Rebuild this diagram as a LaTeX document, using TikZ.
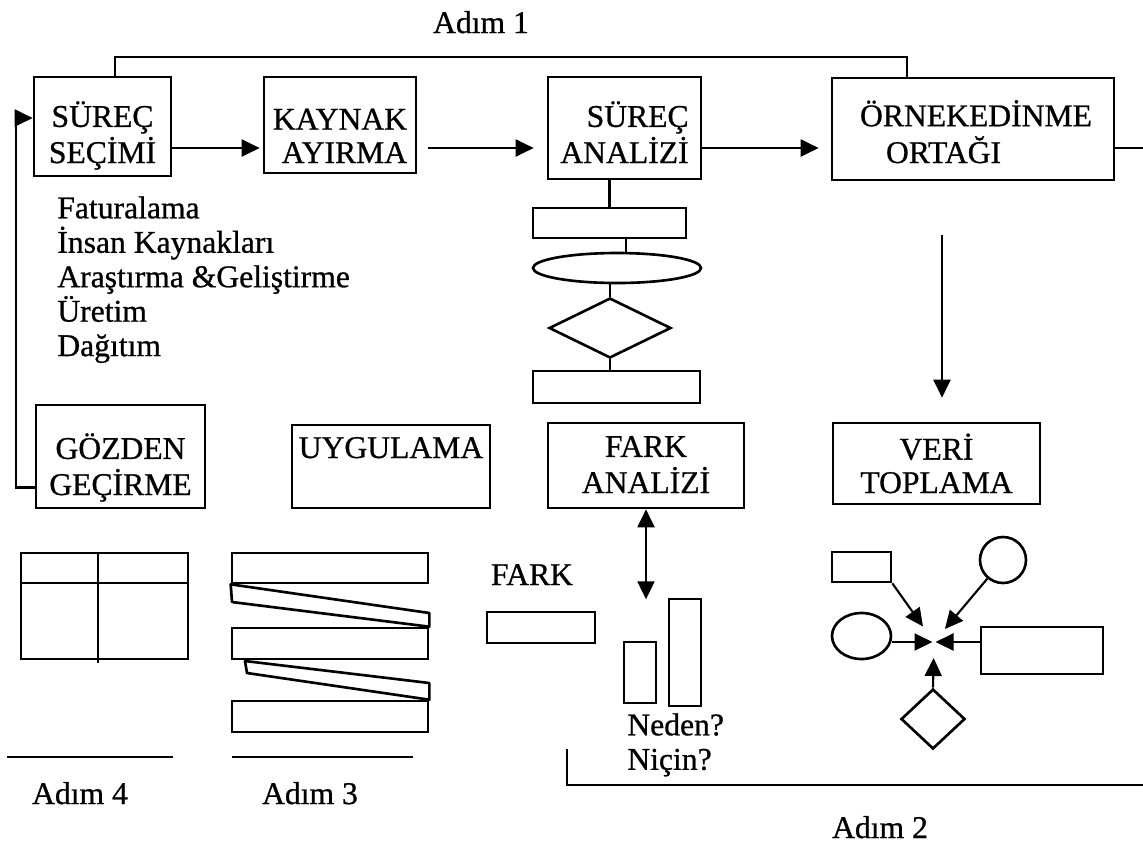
\documentclass[tikz,border=0pt]{standalone}
\usepackage{fontspec}
\setmainfont{Liberation Serif}[FakeBold=0.8]
\usetikzlibrary{arrows.meta,shapes.geometric}

% two lines, baseline on the last one
\newcommand{\ikisatir}[3][c]{\begin{tabular}[b]{@{}#1@{}}#2\\#3\end{tabular}}

\begin{document}
\begin{tikzpicture}[x=0.2mm, y=-0.2mm, >={Triangle[length=3.6mm,width=3.4mm]},
  font=\fontsize{18}{19}\selectfont,
  stepbox/.style={draw, line width=1.5pt, inner sep=1mm},
  shp/.style={draw, line width=1.5pt, inner sep=0pt},
  outline/.style={line width=1.5pt, line join=round},
  flow/.style={->, line width=1.2pt},
  link/.style={line width=1.2pt},
  lst/.style={anchor=north west, align=left, inner sep=0pt, font=\fontsize{18}{19.6}\selectfont}]
  \useasboundingbox (0,0) rectangle (1143,849);

  % Adim 1: top row
  \node[stepbox, minimum width=27.4mm, text height=16.2mm, text depth=1.6mm] (secim) at (102.5,126.5) {\ikisatir{SÜREÇ}{SEÇİMİ}};
  \node[stepbox, minimum width=30.4mm, text height=16.2mm, text depth=1mm] (kaynak) at (340,125) {\ikisatir[r]{KAYNAK}{AYIRMA}};
  \node[stepbox, minimum width=30.6mm, text height=16.2mm, text depth=2.2mm] (analiz) at (624.5,128) {\ikisatir[r]{SÜREÇ}{ANALİZİ}};
  \node[stepbox, minimum width=56.4mm, text height=16mm, text depth=2.4mm] (ortak) at (973,129) {\ikisatir[l]{\hspace*{1.2mm}ÖRNEKEDİNME}{\hspace*{6.4mm}ORTAĞI}};
  \node[anchor=base] (adim1) at (481,33) {Adım 1};
  \coordinate (row) at (0,148);
  \draw[flow, shorten >=0.6mm] (secim.east |- row) -- (kaynak.west |- row);
  \draw[flow, shorten <=2.2mm, shorten >=2.6mm] (kaynak.east |- row) -- (analiz.west |- row);
  \draw[flow, shorten >=2.4mm] (analiz.east |- row) -- (ortak.west |- row);
  \draw[link] (ortak.east |- row) -- ++(40,0);
  \draw[link] (secim.north -| 115,0) -- (115,57) -| (ortak.north -| 907,0);

  \node[lst] (alanlar) at (57,196) {Faturalama\\İnsan Kaynakları\\Araştırma \&Geliştirme\\Üretim\\Dağıtım};

  % flowchart under the analysis box
  \node[shp, minimum width=30.6mm, minimum height=6mm] (r1) at (609.5,223) {};
  \node[shp, ellipse, minimum width=33.6mm, minimum height=6mm] (ell) at (617,268) {};
  \node[shp, diamond, minimum width=24.4mm, minimum height=12mm] (dia) at (610,328) {};
  \node[shp, minimum width=33.4mm, minimum height=6.4mm] (r2) at (616.5,387) {};
  \draw[link] (r1.north) -- (r1.north |- analiz.south);
  \draw[link] (r1.south -| 626,0) -- (ell.north -| 626,0);
  \draw[link] (dia.north) -- (dia.north |- ell.south);
  \draw[link] (dia.south) -- (dia.south |- r2.north);

  % second row
  \node[stepbox, minimum width=33.8mm, text height=17mm, text depth=1.6mm] (gozden) at (120.5,456.5) {\ikisatir{GÖZDEN}{GEÇİRME}};
  \node[stepbox, minimum width=39.6mm, text height=5.6mm, text depth=9mm] (uygulama) at (391,466.5) {UYGULAMA};
  \node[stepbox, minimum width=39.2mm, text height=13mm, text depth=2mm] (farkan) at (646,465.5) {\ikisatir{FARK}{ANALİZİ}};
  \node[stepbox, minimum width=41.4mm, text height=13mm, text depth=1.2mm] (veri) at (936.5,463.5) {\ikisatir{VERİ}{TOPLAMA}};
  \coordinate (dtop) at (942,235);
  \draw[flow, shorten >=4.8mm] (dtop) -- (dtop |- veri.north);
  \draw[flow] ([yshift=-6.2mm]gozden.west) -- ++(-19,0) |- ([yshift=1.7mm]secim.west);

  % Adim 4
  \node[shp, minimum width=33.4mm, minimum height=21.2mm] (tablo) at (104.5,606) {};
  \draw[link] (tablo.west |- 0,583) -- (tablo.east |- 0,583);
  \draw[link] (tablo.north -| 98,0) -- ++(0,111);
  \draw[link] (7,757) -- (173,757);
  \node[anchor=base] (adim4) at (80,804) {Adım 4};

  % Adim 3
  \node[shp, minimum width=39.2mm, minimum height=6mm] (s1) at (330,568) {};
  \node[shp, minimum width=39.2mm, minimum height=6.2mm] (s2) at (330,643.5) {};
  \node[shp, minimum width=39.2mm, minimum height=6.2mm] (s3) at (330,716.5) {};
  \draw[outline] (s1.south west) -- (s1.south east |- 0,613) -- (s2.north east) -- (232,602) -- cycle;
  \draw[outline] (245,661) -- (s2.south east |- 0,683) -- (s3.north east) -- (247,673) -- cycle;
  \draw[link] (232,757) -- (413,757);
  \node[anchor=base] (adim3) at (310,804) {Adım 3};

  % Adim 2
  \node[anchor=base] (farklbl) at (532,585) {FARK};
  \node[shp, minimum width=21.6mm, minimum height=6.2mm] (fark) at (541,627.5) {};
  \node[shp, minimum width=6.4mm, minimum height=12.2mm] (bar1) at (640,672.5) {};
  \node[shp, minimum width=6.4mm, minimum height=21.4mm] (bar2) at (685,652.5) {};
  \draw[flow, <->] (farkan.south) -- ++(0,90);
  \node[lst] (neden) at (627,713) {Neden?\\Niçin?};
  \draw[link] (567,749) |- (1143,785);
  \node[anchor=base] (adim2) at (880,838) {Adım 2};

  \coordinate (hub) at (934,642);
  \node[shp, minimum width=11.8mm, minimum height=6mm] (kare) at (861.5,567) {};
  \node[shp, circle, minimum size=9.2mm] (daire) at (1003,560) {};
  \node[shp, ellipse, minimum width=11.8mm, minimum height=9.2mm] (oval) at (861.5,636) {};
  \node[shp, minimum width=24.4mm, minimum height=9.4mm] (kutu) at (1042,650.5) {};
  \node[shp, diamond, minimum width=12.8mm, minimum height=12mm] (elmas) at (933,719) {};
  \draw[flow, shorten >=3.8mm] (kare.south east) -- (hub);
  \draw[flow, shorten >=3.4mm] (daire) -- (hub);
  \draw[flow, shorten >=0.3mm] (oval.east |- hub) -- (hub);
  \draw[flow, shorten >=0.3mm] (kutu.west |- hub) -- (hub);
  \draw[flow, shorten >=3.2mm] (elmas.north) -- (hub);
\end{tikzpicture}
\end{document}
